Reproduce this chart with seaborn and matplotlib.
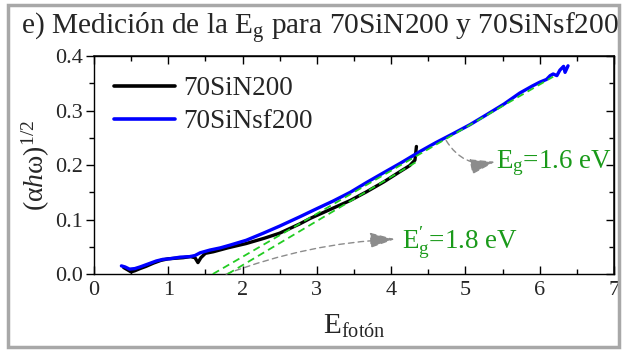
import matplotlib
matplotlib.use("Agg")
import matplotlib.pyplot as plt
from matplotlib.patches import Rectangle
import numpy as np
import pandas as pd
import seaborn as sns

# Photon energy (eV) and Tauc quantity for each sample
e_sin200 = [0.40, 0.45, 0.50, 0.55, 0.62, 0.70, 0.80, 0.90, 1.00, 1.10, 1.20, 1.30,
            1.36, 1.40, 1.44, 1.50, 1.61, 1.80, 2.05, 2.30, 2.50, 2.77, 2.91, 3.22,
            3.45, 3.67, 3.90, 4.12, 4.25, 4.32, 4.34]
y_sin200 = [0.012, 0.008, 0.004, 0.006, 0.010, 0.014, 0.020, 0.025, 0.028, 0.029, 0.030, 0.032,
            0.030, 0.021, 0.030, 0.038, 0.041, 0.048, 0.056, 0.066, 0.075, 0.092, 0.102, 0.121,
            0.135, 0.151, 0.169, 0.188, 0.199, 0.209, 0.234]

e_sinsf200 = [0.37, 0.42, 0.48, 0.55, 0.62, 0.72, 0.84, 0.93, 1.02, 1.16, 1.29, 1.36, 1.43,
              1.56, 1.70, 1.83, 2.05, 2.28, 2.50, 2.77, 3.00, 3.22, 3.45, 3.67, 3.90, 4.12,
              4.39, 4.60, 4.84, 5.06, 5.28, 5.52, 5.73, 5.90, 6.00, 6.09, 6.14, 6.18, 6.23,
              6.27, 6.32, 6.34, 6.38]
y_sinsf200 = [0.015, 0.013, 0.009, 0.010, 0.013, 0.018, 0.024, 0.027, 0.028, 0.031, 0.032, 0.034, 0.039,
              0.044, 0.048, 0.053, 0.062, 0.075, 0.088, 0.105, 0.120, 0.134, 0.150, 0.168, 0.186, 0.203,
              0.225, 0.241, 0.258, 0.274, 0.292, 0.312, 0.332, 0.345, 0.352, 0.357, 0.364, 0.367, 0.364,
              0.374, 0.381, 0.370, 0.382]

series_names = ["70SiN200", "70SiNsf200"]
series_colors = ["#000000", "#0000ff"]

# Linear extrapolations to the energy axis (band gaps)
gap_main = 1.6      # Eg
gap_main_end = (6.18, 0.362)
gap_alt = 1.8       # Eg'
gap_alt_end = (4.33, 0.205)

sns.set_theme(style="white")
plt.rcParams["font.family"] = ["Liberation Serif", "DejaVu Serif"]
plt.rcParams["mathtext.fontset"] = "custom"
plt.rcParams["mathtext.rm"] = "Liberation Serif"
plt.rcParams["mathtext.it"] = "Liberation Serif:italic"

df = pd.concat([
    pd.DataFrame({"E": e_sin200, "y": y_sin200, "muestra": series_names[0]}),
    pd.DataFrame({"E": e_sinsf200, "y": y_sinsf200, "muestra": series_names[1]}),
], ignore_index=True)

fig = plt.figure(figsize=(6.26, 3.5), dpi=100)
ax = fig.add_axes([0.150, 0.217, 0.831, 0.623])

sns.lineplot(data=df, x="E", y="y", hue="muestra", palette=series_colors,
             sort=False, estimator=None, lw=2.4, ax=ax)

green = "#22cc22"
ax.plot([gap_main, gap_main_end[0]], [0, gap_main_end[1]], ls=(0, (4, 2.5)), color=green, lw=1.3, zorder=5)
ax.plot([gap_alt, gap_alt_end[0]], [0, gap_alt_end[1]], ls=(0, (4, 2.5)), color=green, lw=1.3, zorder=5)

label_green = "#1a9a1a"
arrow_kw = dict(arrowstyle="-|>,head_length=1.3,head_width=0.4", color="#8c8c8c",
                lw=1.0, ls=(0, (4, 3)), shrinkA=0, shrinkB=0)
ax.annotate("", xy=(5.40, 0.206), xytext=(4.74, 0.245),
            arrowprops=dict(connectionstyle="arc3,rad=0.35", **arrow_kw))
ax.annotate("", xy=(4.05, 0.064), xytext=(1.78, 0.0),
            arrowprops=dict(connectionstyle="arc3,rad=-0.08", **arrow_kw))
ax.text(5.41, 0.203, r"E$_\mathregular{g}$=1.6 eV", color=label_green, fontsize=19.5,
        va="center", ha="left")
ax.text(4.15, 0.058, r"E$_\mathregular{g}^{\mathregular{\prime}}$=1.8 eV", color=label_green,
        fontsize=19.5, va="center", ha="left")

ax.set_xlim(0, 7)
ax.set_ylim(0, 0.4)
ax.set_xticks(np.arange(0, 8, 1))
ax.set_xticks(np.arange(0.5, 7, 1), minor=True)
ax.set_yticks([0.0, 0.1, 0.2, 0.3, 0.4])
ax.set_yticklabels(["0.0", "0.1", "0.2", "0.3", "0.4"])
ax.set_yticks(np.arange(0.05, 0.4, 0.1), minor=True)
ax.tick_params(axis="x", which="both", direction="in", bottom=True, labelsize=16, pad=5, color="black")
ax.tick_params(axis="x", which="major", length=6, width=1)
ax.tick_params(axis="x", which="minor", length=3.5, width=1)
ax.tick_params(axis="y", which="both", direction="out", left=True, labelsize=16, pad=2, color="black")
ax.tick_params(axis="y", which="major", length=6, width=1)
ax.tick_params(axis="y", which="minor", length=3.5, width=1)

top = ax.secondary_xaxis("top")
top.set_xticks(np.arange(0, 8, 1))
top.set_xticks(np.arange(0.5, 7, 1), minor=True)
top.tick_params(which="both", direction="in", labeltop=False, color="black")
top.tick_params(which="major", length=6, width=1)
top.tick_params(which="minor", length=3.5, width=1)
right = ax.secondary_yaxis("right")
right.set_yticks([0.0, 0.1, 0.2, 0.3, 0.4])
right.set_yticks(np.arange(0.05, 0.4, 0.1), minor=True)
right.tick_params(which="both", direction="in", labelright=False, color="black")
right.tick_params(which="major", length=6, width=1)
right.tick_params(which="minor", length=3.5, width=1)

for sp in ax.spines.values():
    sp.set_color("black")
    sp.set_linewidth(1.0)

ax.set_xlabel(r"E$_\mathregular{fotón}$", fontsize=21, labelpad=9)
ax.set_ylabel(r"$(\mathregular{\alpha} h\mathregular{\omega})^{1/2}$", fontsize=20, labelpad=2)

leg = ax.legend(loc="upper left", frameon=False, fontsize=19.5, handlelength=2.25,
                handletextpad=0.3, borderaxespad=0.35, labelspacing=0.3)
for line in leg.get_lines():
    line.set_linewidth(2.6)

fig.text(0.033, 0.918, r"e) Medición de la E$_\mathregular{g}$ para 70SiN200 y 70SiNsf200",
         fontsize=21.2, va="center", ha="left")

fig.patches.append(Rectangle((0.0128, 0.0086), 0.976, 0.977, transform=fig.transFigure,
                             fill=False, edgecolor="#a8a8a8", lw=2.5))

fig.savefig("out.png", dpi=100)
